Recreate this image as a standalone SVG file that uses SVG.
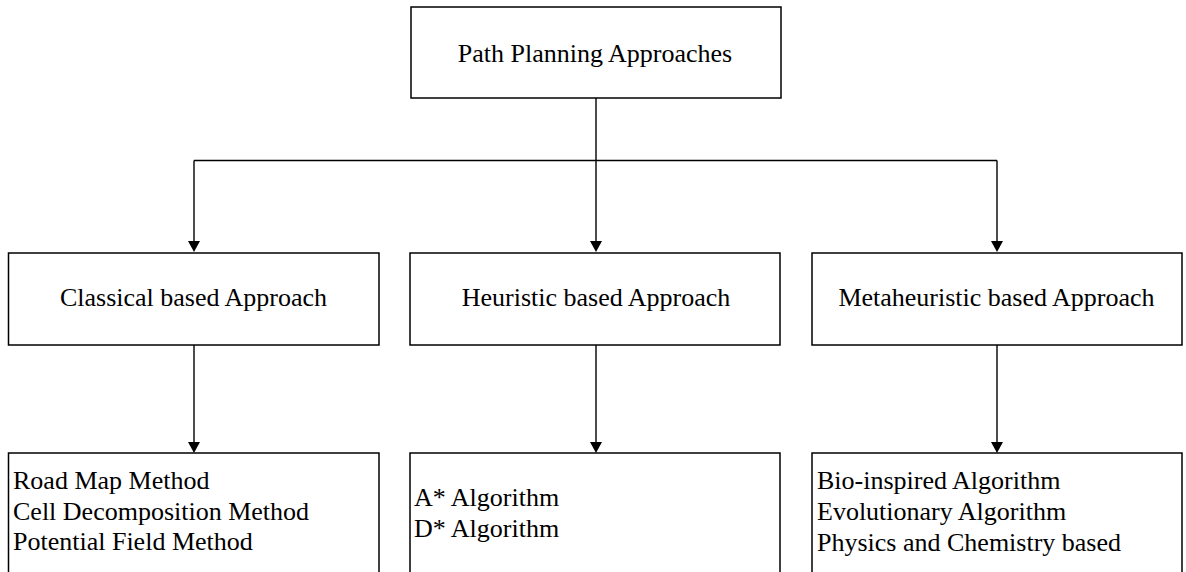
<svg xmlns="http://www.w3.org/2000/svg" width="1186" height="572" viewBox="0 0 1186 572">
<style>
.box{fill:#fff;stroke:#000;stroke-width:1.5}
.t{font-family:"Liberation Serif","Times New Roman",serif;font-size:26px;fill:#000}
.c{text-anchor:middle}
.con{fill:none;stroke:#000;stroke-width:1.4}
</style>
<rect width="1186" height="572" fill="#fff"/>
<g id="connectors">
<path class="con" d="M596,98 V241"/>
<path class="con" d="M194,160.5 H997"/>
<path class="con" d="M194,160.5 V241"/>
<path class="con" d="M997,160.5 V241"/>
<path d="M188,241 L200,241 L194,252 Z"/>
<path d="M590,241 L602,241 L596,252 Z"/>
<path d="M991,241 L1003,241 L997,252 Z"/>
<path class="con" d="M194,345 V442"/>
<path class="con" d="M596,345 V442"/>
<path class="con" d="M997,345 V442"/>
<path d="M188,442 L200,442 L194,453 Z"/>
<path d="M590,442 L602,442 L596,453 Z"/>
<path d="M991,442 L1003,442 L997,453 Z"/>
</g>
<g id="root">
<rect class="box" x="411" y="7" width="370" height="91"/>
<text class="t c" x="595" y="62">Path Planning Approaches</text>
</g>
<g id="classical">
<rect class="box" x="8.5" y="253" width="370.5" height="92"/>
<text class="t c" x="193.5" y="306">Classical based Approach</text>
</g>
<g id="heuristic">
<rect class="box" x="410" y="253" width="370" height="92"/>
<text class="t c" x="596" y="306">Heuristic based Approach</text>
</g>
<g id="metaheuristic">
<rect class="box" x="812" y="253" width="370" height="92"/>
<text class="t c" x="996.5" y="306">Metaheuristic based Approach</text>
</g>
<g id="classical-methods">
<rect class="box" x="8.5" y="453" width="370.5" height="130"/>
<text class="t" x="13" y="489">Road Map Method</text>
<text class="t" x="13" y="520">Cell Decomposition Method</text>
<text class="t" x="13" y="550">Potential Field Method</text>
</g>
<g id="heuristic-methods">
<rect class="box" x="410" y="453" width="370" height="130"/>
<text class="t" x="414" y="506">A* Algorithm</text>
<text class="t" x="414" y="537">D* Algorithm</text>
</g>
<g id="metaheuristic-methods">
<rect class="box" x="812" y="453" width="370" height="130"/>
<text class="t" x="817" y="489">Bio-inspired Algorithm</text>
<text class="t" x="817" y="520">Evolutionary Algorithm</text>
<text class="t" x="817" y="551">Physics and Chemistry based</text>
</g>
</svg>
